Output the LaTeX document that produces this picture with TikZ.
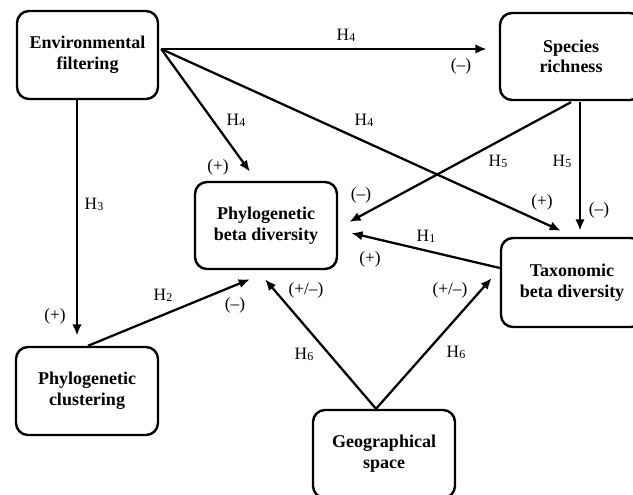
\documentclass[tikz,border=0pt]{standalone}
\usepackage{fontspec}
\setmainfont{Liberation Serif}
\usetikzlibrary{arrows.meta,calc}
\tikzset{
  box/.style={draw, line width=1.8pt, rounded corners=9pt, minimum width=106.5pt, minimum height=66pt, align=center, font=\bfseries\fontsize{13.5}{15.5}\selectfont, inner sep=0pt},
  conn/.style={line width=1.7pt, -{Latex[length=8.5pt,width=7pt]}},
  lab/.style={font=\fontsize{13}{15}\selectfont, inner sep=0pt}
}
\newcommand{\hyp}[1]{H{\fontsize{9}{9}\selectfont\raisebox{-0.6pt}{#1}}}
\begin{document}
\begin{tikzpicture}[x=0.75pt,y=-0.75pt]
\useasboundingbox (0,0) rectangle (633,495);
\clip (0,0) rectangle (633,495);
\fill[white] (0,0) rectangle (633,495);
\node[box, minimum width=105.75pt] (ef) at (87.5,55) {Environmental\\filtering};
\node[box, minimum height=65.25pt] (sr) at (571,56.5) {Species\\richness};
\node[box, minimum height=65.25pt] (pbd) at (266,225.5) {Phylogenetic\\beta diversity};
\node[box, minimum height=66.75pt] (tbd) at (572,282.5) {Taxonomic\\beta diversity};
\node[box] (pc) at (87,391) {Phylogenetic\\clustering};
\node[box] (gs) at (384,454) {Geographical\\space};

\coordinate (efo) at ($(ef.east)+(2,-6)$);
\draw[conn] (efo) -- ($(sr.west)+(-12,-7.5)$);
\draw[conn] (efo) -- ($(pbd.north)+(-16,-9)$);
\draw[conn] (efo) -- ($(tbd.north)+(-11,-6)$);
\draw[conn] ($(ef.south)+(-10.5,0)$) -- ($(pc.north)+(-10,-10)$);
\draw[conn] ($(sr.south)+(0,1)$) -- ($(pbd.east)+(11,-3.5)$);
\draw[conn] ($(sr.south)+(9,1)$) -- ($(tbd.north)+(8,-6)$);
\draw[conn] ($(tbd.west)+(0,-14.5)$) -- ($(pbd.east)+(13,7.5)$);
\draw[conn] ($(pc.north)+(1,0)$) -- ($(pbd.south)+(-16,9)$);
\draw[conn] ($(gs.north)+(-8,0)$) -- ($(pbd.south)+(-1,9)$);
\draw[conn] ($(gs.north)+(-8,0)$) -- ($(tbd.west)+(-8,-4.5)$);

\node[lab] (l1) at (346,35) {\hyp{4}};
\node[lab] (l2) at (461,66) {(–)};
\node[lab] (l3) at (236,120) {\hyp{4}};
\node[lab] (l4) at (218,167) {(+)};
\node[lab] (l5) at (364,120) {\hyp{4}};
\node[lab] (l6) at (542,202) {(+)};
\node[lab] (l7) at (94,204) {\hyp{3}};
\node[lab] (l8) at (55,316) {(+)};
\node[lab] (l9) at (498,161) {\hyp{5}};
\node[lab] (l10) at (361,195) {(–)};
\node[lab] (l11) at (562,161) {\hyp{5}};
\node[lab] (l12) at (599,210) {(–)};
\node[lab] (l13) at (426,236) {\hyp{1}};
\node[lab] (l14) at (370,259) {(+)};
\node[lab] (l15) at (163,295) {\hyp{2}};
\node[lab] (l16) at (235,305) {(–)};
\node[lab] (l17) at (306,290) {(+/–)};
\node[lab] (l18) at (304,354) {\hyp{6}};
\node[lab] (l19) at (450,290) {(+/–)};
\node[lab] (l20) at (456,352) {\hyp{6}};
\end{tikzpicture}
\end{document}
